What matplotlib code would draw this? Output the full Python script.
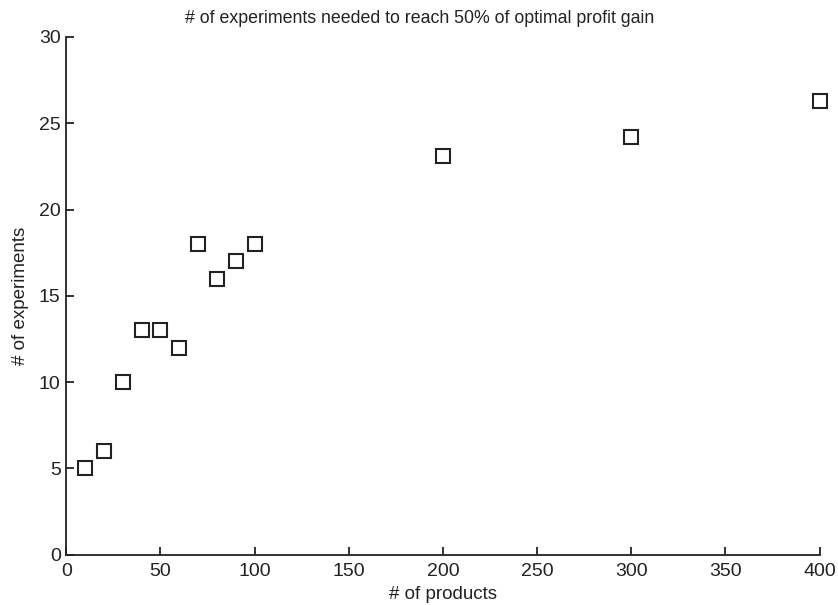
import matplotlib.pyplot as plt

# number of products vs experiments needed to reach 50% of optimal profit gain
products = [10, 20, 30, 40, 50, 60, 70, 80, 90, 100, 200, 300, 400]
experiments = [5, 6, 10, 13, 13, 12, 18, 16, 17, 18, 23.1, 24.2, 26.3]

plt.rcParams['font.family'] = ['Liberation Sans', 'DejaVu Sans']

fig = plt.figure(figsize=(8.38, 6.05), dpi=100)
ax = fig.add_axes([0.079, 0.083, 0.899, 0.856])

ax.plot(products, experiments, linestyle='none', marker='s', markersize=10.5,
        markerfacecolor='white', markeredgecolor='#222222', markeredgewidth=1.5,
        clip_on=False)

ax.set_xlim(0, 400)
ax.set_ylim(0, 30)
ax.set_xticks(range(0, 401, 50))
ax.set_yticks(range(0, 31, 5))

for side in ['top', 'right']:
    ax.spines[side].set_visible(False)
for side in ['left', 'bottom']:
    ax.spines[side].set_linewidth(1.3)
    ax.spines[side].set_color('#222222')

ax.tick_params(direction='in', length=6, width=1.3, labelsize=14,
               colors='#222222')
ax.tick_params(axis='x', pad=6)
ax.tick_params(axis='y', pad=4)

ax.set_xlabel('# of products', fontsize=13.5, color='#222222', labelpad=4)
ax.set_ylabel('# of experiments', fontsize=13.5, color='#222222', labelpad=7)
fig.text(0.501, 0.97, '# of experiments needed to reach 50% of optimal profit gain',
         ha='center', va='center', fontsize=12.8, color='#222222')

fig.savefig('out.png', dpi=100)
